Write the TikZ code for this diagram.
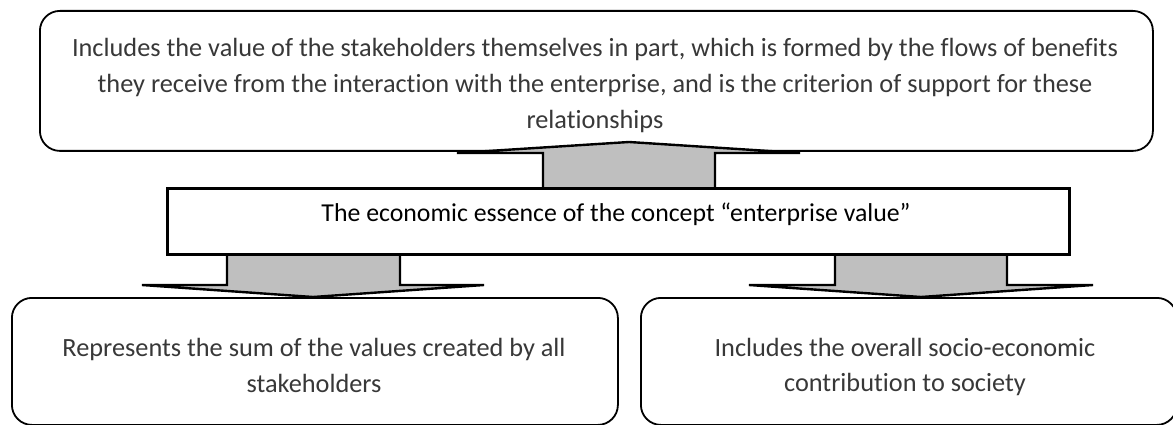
\documentclass[tikz,border=0pt]{standalone}
\usepackage{fontspec}
\setmainfont[Ligatures=NoCommon,RawFeature={-liga;-clig;-dlig}]{Carlito}
\begin{document}
\begin{tikzpicture}[x=1pt,y=-1pt,
  box/.style={draw, line width=1.8pt, rounded corners=20pt, inner sep=0pt, anchor=north west, fill=white},
  midbox/.style={draw, line width=2.6pt, inner sep=0pt, anchor=north west, fill=white},
  txt/.style={text=black!78, align=center, font=\fontsize{26.3}{36}\selectfont, inner sep=0pt, anchor=base},
  midtxt/.style={text=black, font=\fontsize{25.8}{30}\selectfont, inner sep=0pt, anchor=base},
  blockfill/.style={fill=black!25},
  blockline/.style={draw, line width=2.4pt, line join=miter}
]
\useasboundingbox (0,0) rectangle (1173,425);
% boxes
\node[box, minimum width=1113pt, minimum height=140pt] (top) at (39,10) {};
\node[box, minimum width=606pt, minimum height=127pt] (bl) at (11,297) {};
\node[box, minimum width=536pt, minimum height=127pt] (br) at (640,297) {};
% arrows
\fill[blockfill] (543,187) -- (543,153) -- (457,153) -- (629,142) -- (800,153) -- (715,153) -- (715,187) -- cycle;
\draw[blockline] (543,187) -- (543,153) -- (457,153) -- (629,142) -- (800,153) -- (715,153) -- (715,187);
\fill[blockfill] (227,253) -- (227,285) -- (142,285) -- (313,297) -- (484,285) -- (400,285) -- (400,253) -- cycle;
\draw[blockline] (227,253) -- (227,285) -- (142,285) -- (313,297) -- (484,285) -- (400,285) -- (400,253);
\fill[blockfill] (835,253) -- (835,285) -- (749,285) -- (921,297) -- (1093,285) -- (1007,285) -- (1007,253) -- cycle;
\draw[blockline] (835,253) -- (835,285) -- (749,285) -- (921,297) -- (1093,285) -- (1007,285) -- (1007,253);
\node[midbox, minimum width=902pt, minimum height=66pt] (mid) at (166,187) {};
% texts (base anchor = baseline of last line)
\node[txt] (toptext) at (595,129) {Includes the value of the stakeholders themselves in part, which is formed by the flows of benefits\\they receive from the interaction with the enterprise, and is the criterion of support for these\\relationships};
\node[midtxt] (midtext) at (616,222) {The economic essence of the concept “enterprise value”};
\node[txt] (bltext) at (314,392) {Represents the sum of the values created by all\\stakeholders};
\node[txt, font=\fontsize{26.3}{35}\selectfont] (brtext) at (905,391) {Includes the overall socio-economic\\contribution to society};
\end{tikzpicture}
\end{document}
